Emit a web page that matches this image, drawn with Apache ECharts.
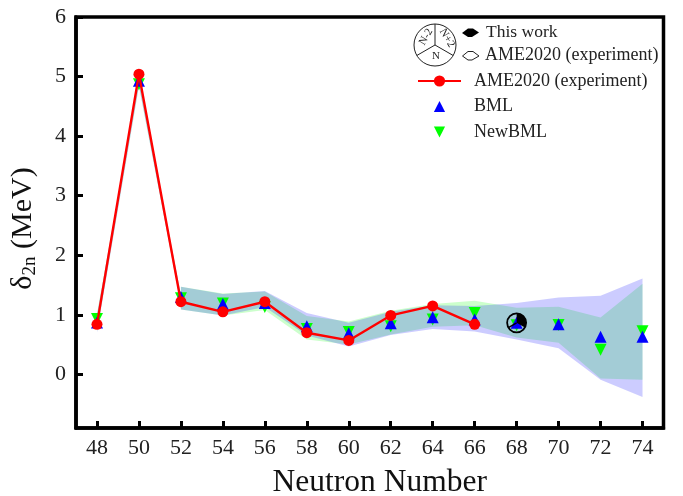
<!DOCTYPE html>
<html><head><meta charset="utf-8">
<script src="https://cdn.jsdelivr.net/npm/echarts@6/dist/echarts.min.js"></script>
<style>html,body{margin:0;padding:0;background:#fff}#c{width:683px;height:496px}</style>
</head><body><div id="c"></div>
<script>
const xTicks = [48,50,52,54,56,58,60,62,64,66,68,70,72,74];
const yTicks = [0,1,2,3,4,5,6];
const neutrons = [48,50,52,54,56,58,60,62,64,66];
const ame = [0.84,5.04,1.22,1.05,1.22,0.70,0.57,0.99,1.15,0.84];
const bml = [0.87,4.93,1.30,1.18,1.20,0.81,0.69,0.86,0.96,0.92,0.865,0.84,0.63,0.63];
const newBml = [0.93,4.87,1.28,1.19,1.13,0.76,0.71,0.81,0.92,1.03,0.825,0.83,0.415,0.725];
const bandN = [48,50,52,52,54,56,58,60,62,64,66,68,70,72,74];
const bmlLow = [0.70,4.84,1.17,1.09,0.99,1.13,0.655,0.47,0.66,0.76,0.72,0.585,0.44,-0.09,-0.38];
const bmlHigh = [1.00,4.96,1.34,1.47,1.35,1.40,1.03,0.865,1.05,1.16,1.15,1.20,1.29,1.32,1.61];
const newLow = [0.72,4.84,1.17,1.09,0.99,1.08,0.585,0.50,0.67,0.80,0.825,0.62,0.53,-0.07,-0.09];
const newHigh = [1.02,4.96,1.34,1.47,1.36,1.39,0.98,0.89,1.07,1.18,1.235,1.12,1.135,0.955,1.52];
const thisWorkPoint = [68,0.865];

const SERIF = '"Liberation Serif","Times New Roman",serif';
const zip = (xs, ys) => xs.map((x,i)=>[x,ys[i]]);

function bandSeries(name, low, high, color){
  return {
    type:'custom', name, silent:true, z:2, legendHoverLink:false,
    data:[0], encode:{x:[],y:[]}, clip:true,
    renderItem(params, api){
      const pts = bandN.map((n,i)=>api.coord([n,high[i]]))
        .concat(bandN.map((n,i)=>api.coord([n,low[i]])).reverse());
      return {type:'polygon', shape:{points:pts}, style:{fill:color, stroke:null}};
    }
  };
}

const chart = echarts.init(document.getElementById('c'),null,{renderer:'canvas'});
const cx=435, cy=45, r=21;
const spoke=a=>({type:'line',shape:{x1:cx,y1:cy,x2:cx+r*Math.cos(a),y2:cy+r*Math.sin(a)},style:{stroke:'#222',lineWidth:1}});
chart.setOption({
  animation:false,
  backgroundColor:'#fff',
  textStyle:{fontFamily:SERIF},
  grid:{left:76,right:19.5,top:17,bottom:68,outerBoundsMode:'none',show:true,borderColor:'#000',borderWidth:3.5,backgroundColor:'transparent'},
  xAxis:{
    type:'value',min:47,max:75,
    name:'Neutron Number',nameLocation:'middle',nameGap:39,
    nameTextStyle:{fontFamily:SERIF,fontSize:31.5,color:'#111',padding:[0,0,0,20]},
    splitLine:{show:false},
    axisLine:{show:true,onZero:false,lineStyle:{color:'#000',width:3.5}},
    axisTick:{show:true,inside:true,length:7,customValues:xTicks,lineStyle:{color:'#000',width:3}},
    axisLabel:{show:true,customValues:xTicks,fontFamily:SERIF,fontSize:22,color:'#222',margin:9,hideOverlap:false}
  },
  yAxis:{
    type:'value',min:-0.9,max:6,
    name:'{a|δ}{b|2n}{a| (MeV)}',nameLocation:'middle',nameGap:36,
    nameTextStyle:{fontFamily:SERIF,fontSize:30,color:'#111',padding:[0,12,0,0],
      rich:{a:{fontFamily:SERIF,fontSize:30,color:'#111'},b:{fontFamily:SERIF,fontSize:19,color:'#111',padding:[14,0,0,0]}}},
    splitLine:{show:false},
    axisLine:{show:true,onZero:false,lineStyle:{color:'#000',width:3.5}},
    axisTick:{show:true,inside:true,length:7,customValues:yTicks,lineStyle:{color:'#000',width:3}},
    axisLabel:{show:true,customValues:yTicks,fontFamily:SERIF,fontSize:22,color:'#222',margin:10,hideOverlap:false}
  },
  legend:{
    show:true,orient:'vertical',left:417,top:72,padding:0,itemWidth:43,itemHeight:14,itemGap:7.5,
    textStyle:{fontFamily:SERIF,fontSize:18,color:'#222',padding:[0,0,0,8]},
    data:['AME2020 (experiment)','BML','NewBML']
  },
  series:[
    bandSeries('NewBML band',newLow,newHigh,'rgba(0,255,0,0.2)'),
    bandSeries('BML band',bmlLow,bmlHigh,'rgba(0,0,255,0.2)'),
    {type:'line',name:'NewBML',data:zip(xTicks,newBml),symbol:'triangle',symbolRotate:180,symbolSize:12,
      lineStyle:{width:0,opacity:0},itemStyle:{color:'#00ff00'},z:3},
    {type:'line',name:'BML',data:zip(xTicks,bml),symbol:'triangle',symbolSize:12,
      lineStyle:{width:0,opacity:0},itemStyle:{color:'#0000ff'},z:4},
    {type:'line',name:'AME2020 (experiment)',data:zip(neutrons,ame),symbol:'circle',symbolSize:11,
      lineStyle:{width:2.4,color:'#ff0000'},itemStyle:{color:'#ff0000'},z:5},
    {type:'custom',name:'This work',silent:true,z:6,data:[thisWorkPoint],encode:{x:0,y:1},
      renderItem(params,api){
        const p=api.coord([api.value(0),api.value(1)]);
        const R=9.5, sp=a=>({type:'line',shape:{x1:p[0],y1:p[1],x2:p[0]+R*Math.cos(a),y2:p[1]+R*Math.sin(a)},style:{stroke:'#000',lineWidth:1.5}});
        return {type:'group',children:[
          {type:'sector',shape:{cx:p[0],cy:p[1],r:R,r0:0,startAngle:-Math.PI/2,endAngle:Math.PI/6},style:{fill:'#000'}},
          {type:'circle',shape:{cx:p[0],cy:p[1],r:R},style:{fill:null,stroke:'#000',lineWidth:1.8}},
          sp(5*Math.PI/6)
        ]};
      }}
  ],
  graphic:[
    {type:'circle',shape:{cx,cy,r},style:{fill:'#fff',stroke:'#222',lineWidth:1}},
    spoke(-Math.PI/2),spoke(Math.PI/6),spoke(5*Math.PI/6),
    {type:'text',x:426,y:37,rotation:Math.PI/3,style:{text:'N-2',font:'11px '+SERIF,fill:'#222',align:'center',verticalAlign:'middle'}},
    {type:'text',x:447,y:38,rotation:-Math.PI/3,style:{text:'N+2',font:'11px '+SERIF,fill:'#222',align:'center',verticalAlign:'middle'}},
    {type:'text',x:436,y:56,style:{text:'N',font:'11px '+SERIF,fill:'#222',align:'center',verticalAlign:'middle'}},
    {type:'polygon',shape:{points:[[462,33],[468,28.5],[473,28.5],[479,32.5],[472,37],[468,37]]},style:{fill:'#000'}},
    {type:'polygon',shape:{points:[[462.5,56],[468,51.5],[473,51.5],[479,56],[472,60],[468,60]]},style:{fill:'#fff',stroke:'#222',lineWidth:1}},
    {type:'text',x:486,y:32,style:{text:'This work',font:'17.5px '+SERIF,fill:'#222',verticalAlign:'middle'}},
    {type:'text',x:485,y:55,style:{text:'AME2020 (experiment)',font:'18px '+SERIF,fill:'#222',verticalAlign:'middle'}}
  ]
});
</script></body></html>
